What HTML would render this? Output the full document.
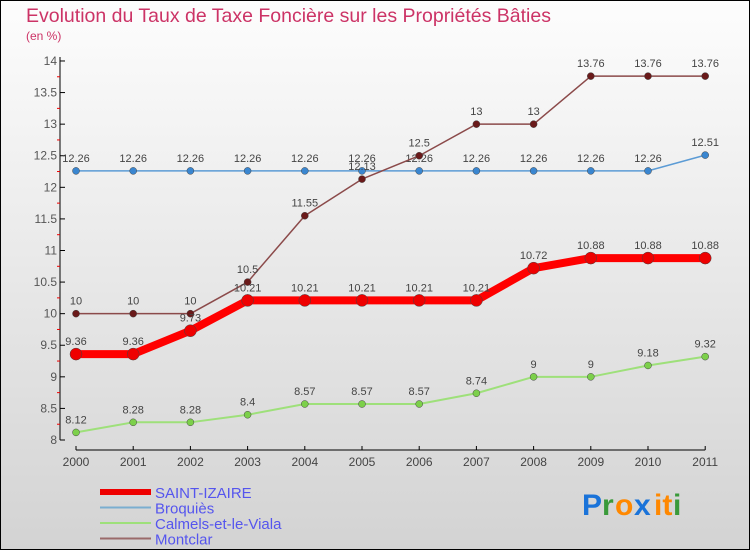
<!DOCTYPE html>
<html><head><meta charset="utf-8"><style>
html,body{margin:0;padding:0}
body{width:750px;height:550px;overflow:hidden;font-family:"Liberation Sans",sans-serif}
</style></head><body>
<svg id="chart" width="750" height="550" xmlns="http://www.w3.org/2000/svg" font-family="Liberation Sans, sans-serif">
<defs><linearGradient id="bg" x1="0" y1="0" x2="0" y2="1"><stop offset="0" stop-color="#fdfdfd"/><stop offset="1" stop-color="#d3d3d3"/></linearGradient></defs>
<rect x="0.5" y="0.5" width="749" height="549" fill="url(#bg)" stroke="#000"/>
<text x="26" y="22" font-size="19.5" fill="#cc3366">Evolution du Taux de Taxe Foncière sur les Propriétés Bâties</text>
<text x="26" y="40" font-size="12" fill="#cc3366">(en %)</text>
<g id="axes"></g><g id="series"></g><g id="legend"></g>
<g font-size="30" font-weight="bold">
<text x="582" y="515" fill="#1a73d9">P</text><text x="602" y="515" fill="#3a9a3a">r</text><text x="615" y="515" fill="#ff8800">o</text><text x="634" y="515" fill="#1a73d9">x</text><text x="654" y="515" fill="#ff8800">it</text><text x="673" y="515" fill="#3a9a3a">i</text>
</g>
</svg>
<script>
const years=["2000","2001","2002","2003","2004","2005","2006","2007","2008","2009","2010","2011"];
const yTicks=[8,8.5,9,9.5,10,10.5,11,11.5,12,12.5,13,13.5,14];
const seriesNames=["SAINT-IZAIRE","Broquiès","Calmels-et-le-Viala","Montclar"];
const saint=[9.36,9.36,9.73,10.21,10.21,10.21,10.21,10.21,10.72,10.88,10.88,10.88];
const broquies=[12.26,12.26,12.26,12.26,12.26,12.26,12.26,12.26,12.26,12.26,12.26,12.51];
const calmels=[8.12,8.28,8.28,8.4,8.57,8.57,8.57,8.74,9,9,9.18,9.32];
const montclar=[10,10,10,10.5,11.55,12.13,12.5,13,13,13.76,13.76,13.76];
const NS="http://www.w3.org/2000/svg";
const xs=i=>76+i*57.2;
const ys=v=>440-(v-8)*63.17;
function mk(tag,attrs,parent,txt){const e=document.createElementNS(NS,tag);for(const k in attrs)e.setAttribute(k,attrs[k]);if(txt!==undefined)e.textContent=txt;parent.appendChild(e);return e;}
const axes=document.getElementById('axes');
const yl=mk('line',{x1:60,y1:57,x2:60,y2:440,stroke:'#000'},axes);


const xl=mk('line',{x1:76,y1:450,x2:xs(11),y2:450,stroke:'#000'},axes);


yTicks.forEach((v,k)=>{
  const y=ys(v);
  mk('line',{x1:60,y1:y,x2:65,y2:y,stroke:'#000'},axes);
  if(k>0) mk('line',{x1:57,y1:y+15.8,x2:60,y2:y+15.8,stroke:'#e00'},axes);
  const t=mk('text',{x:57,y:y+4,'font-size':12,fill:'#555','text-anchor':'end'},axes,String(v));
  
  
});
years.forEach((yr,i)=>{
  mk('line',{x1:xs(i),y1:446,x2:xs(i),y2:450,stroke:'#000'},axes);
  const t=mk('text',{x:xs(i),y:466,'font-size':12,fill:'#444','text-anchor':'middle'},axes,yr);
  
  
});
const sg=document.getElementById('series');
const defs=[[broquies,'#5b9bd5','#3a86d0',1.5,3.5,'broquies'],[calmels,'#9ee07a','#7cd04a',2,3.5,'calmels'],[montclar,'#8b4a4a','#6a1a1a',1.5,3.5,'montclar'],[saint,'#ff0000','#ee0000',8,6,'saint-izaire']];
defs.forEach(([d,lc,pc,w,r,nm])=>{
  const g=mk('g',{},sg);
  
  
  const p=mk('polyline',{points:d.map((v,i)=>xs(i)+','+ys(v)).join(' '),fill:'none',stroke:lc,'stroke-width':w,'stroke-linejoin':'round'},g);
  
  
  d.forEach((v,i)=>{
    const c=mk('circle',{cx:xs(i),cy:ys(v),r:r,fill:pc,stroke:'#444','stroke-width':0.5},g);
    
    
    const t=mk('text',{x:xs(i),y:ys(v)-9,'font-size':11,fill:'#444','text-anchor':'middle'},g,String(v));
    
    
  });
});
const lg=document.getElementById('legend');
const lcol=['#ee0000','#7aaed0','#9ee07a','#9a6a6a'];
const lw=[6,2,2,2];
seriesNames.forEach((n,i)=>{
  const y=492+i*15.5;
  const g=mk('g',{},lg);
  
  
  mk('line',{x1:100,y1:y,x2:151,y2:y,stroke:lcol[i],'stroke-width':lw[i]},g);
  mk('text',{x:155,y:y+6,'font-size':15,fill:'#5555ee'},g,n);
});
</script>
</body></html>
